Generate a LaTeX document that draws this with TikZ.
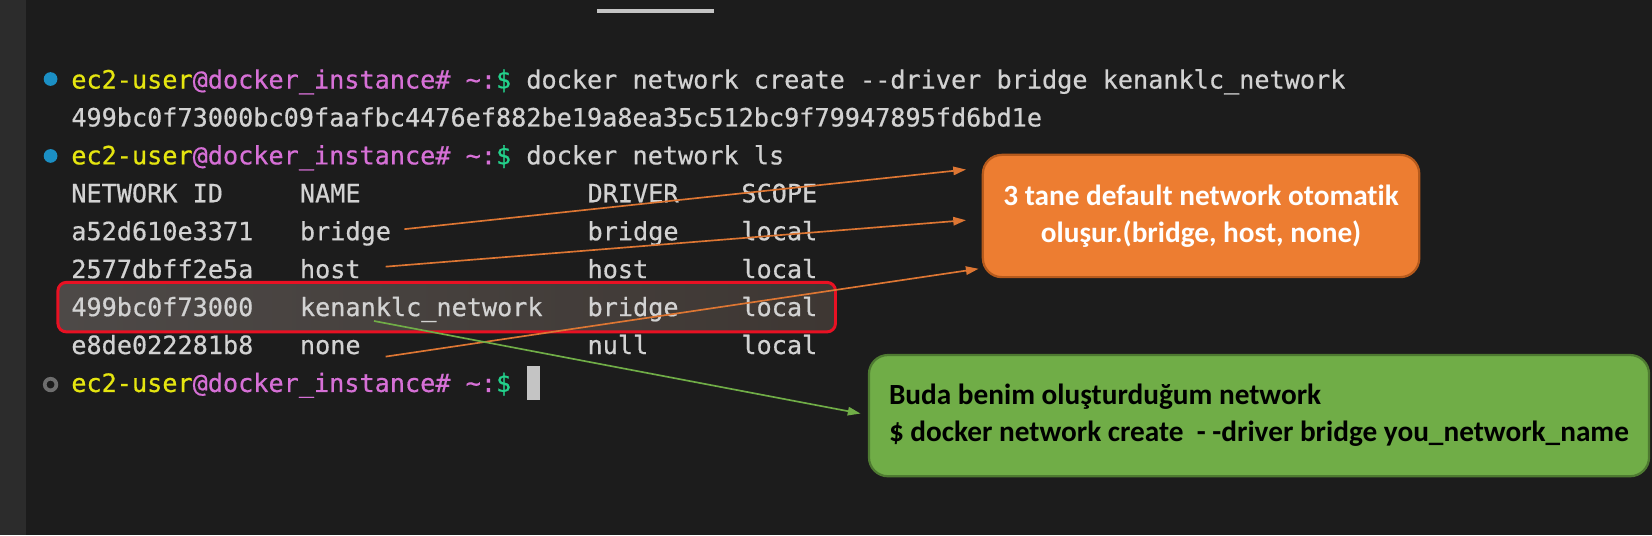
\documentclass[tikz,border=0pt]{standalone}
\usepackage{fontspec}
\newfontfamily\termfont[FakeBold=0.6]{DejaVu Sans Mono}
\newfontfamily\calfont[Ligatures=NoCommon]{Carlito}
\usetikzlibrary{arrows.meta}
\definecolor{termbg}{HTML}{1C1C1C}
\definecolor{sidebar}{HTML}{2C2C2C}
\definecolor{tabline}{HTML}{C4C4C4}
\definecolor{termfg}{HTML}{D2D2D2}
\definecolor{psuser}{HTML}{E5E510}
\definecolor{pshost}{HTML}{D670D6}
\definecolor{psdollar}{HTML}{23D18B}
\definecolor{dotblue}{HTML}{1B8FC4}
\definecolor{dotgray}{HTML}{6E6E6E}
\definecolor{hlred}{HTML}{E81123}
\definecolor{hlL}{HTML}{4D4947}
\definecolor{hlR}{HTML}{3E3733}
\definecolor{orfill}{HTML}{ED7D31}
\definecolor{orline}{HTML}{B65A1C}
\definecolor{grfill}{HTML}{70AD47}
\definecolor{grline}{HTML}{4E7A31}
\definecolor{orarrow}{HTML}{DD7633}
\newcommand\termprompt{\textcolor{psuser}{ec2-user}\textcolor{pshost}{@docker\_instance\# \textasciitilde:}\textcolor{psdollar}{\$} }

\begin{document}
\begin{tikzpicture}[x=0.01cm, y=-0.01cm,
	term/.style={anchor=base west, inner sep=0pt, font=\termfont\fontsize{6.8}{8}\selectfont, text=termfg},
	callout/.style={rounded corners=0.18cm, line width=0.6pt, inner sep=0pt, font=\calfont\bfseries\fontsize{7.9}{10}\selectfont},
	pointer/.style={line width=0.45pt, -{Triangle[length=0.12cm, width=0.08cm]}}]
			%%%%% START %%%%%
			
			\useasboundingbox (0, 0) rectangle (1568, 508);
			\fill[termbg] (0, 0) rectangle (1568, 508);
			\fill[sidebar] (0, 0) rectangle (25, 508);
			\draw[line width=0.035cm, color=tabline] (567, 10.5) -- (678, 10.5);
			
			\fill[dotblue] (48, 75) circle (0.065cm);
			\node[term] (cmd1) at (67, 84) {\termprompt docker network create -{}-driver bridge kenanklc\_network};
			\node[term] (netid) at (67, 120) {499bc0f73000bc09faafbc4476ef882be19a8ea35c512bc9f79947895fd6bd1e};
			
			\fill[dotblue] (48, 148) circle (0.065cm);
			\node[term] (cmd2) at (67, 156) {\termprompt docker network ls};
			
			\node[term] (hid) at (67, 192) {NETWORK ID};
			\node[term] (hnm) at (284, 192) {NAME};
			\node[term] (hdrv) at (557, 192) {DRIVER};
			\node[term] (hscp) at (703, 192) {SCOPE};
			
			\node[term] (id1) at (67, 228) {a52d610e3371};
			\node[term] (nm1) at (284, 228) {bridge};
			\node[term] (drv1) at (557, 228) {bridge};
			\node[term] (scp1) at (703, 228) {local};
			
			\node[term] (id2) at (67, 264) {2577dbff2e5a};
			\node[term] (nm2) at (284, 264) {host};
			\node[term] (drv2) at (557, 264) {host};
			\node[term] (scp2) at (703, 264) {local};
			
			\draw[hlred, line width=0.8pt, rounded corners=0.08cm, left color=hlL, right color=hlR] (55, 268) rectangle (793, 315);
			\node[term] (id3) at (67, 300) {499bc0f73000};
			\node[term] (nm3) at (284, 300) {kenanklc\_network};
			\node[term] (drv3) at (557, 300) {bridge};
			\node[term] (scp3) at (703, 300) {local};
			
			\node[term] (id4) at (67, 336) {e8de022281b8};
			\node[term] (nm4) at (284, 336) {none};
			\node[term] (drv4) at (557, 336) {null};
			\node[term] (scp4) at (703, 336) {local};
			
			\draw[dotgray, line width=0.035cm] (48, 365) circle (0.055cm);
			\node[term] (cmd3) at (67, 372) {\termprompt};
			\fill[tabline] (500, 347) rectangle (513, 380);
			
			\node[callout, fill=orfill, draw=orline, minimum width=4.14cm, minimum height=1.16cm, text=white, align=center] (defnote) at (1140, 205) {3 tane default network otomatik\\oluşur.(bridge, host, none)};
			\node[callout, fill=grfill, draw=grline, minimum width=7.4cm, minimum height=1.15cm, text=black, align=left] (mynote) at (1195, 394.5) {Buda benim oluşturduğum network\\\$ docker network create\ \ - -driver bridge you\_network\_name};
			
			\coordinate (tip1) at ([shift={(-15, 15)}]defnote.north west);
			\coordinate (tip2) at ([shift={(-15, 4)}]defnote.west);
			\coordinate (tip3) at ([shift={(-3, -9)}]defnote.south west);
			\coordinate (tip4) at ([shift={(-7, -2)}]mynote.west);
			
			\draw[pointer, orarrow] ([shift={(12, -4)}]nm1.east) -- (tip1);
			\draw[pointer, orarrow] ([shift={(23, -2)}]nm2.east) -- (tip2);
			\draw[pointer, orarrow] ([shift={(23, 9)}]nm4.east) -- (tip3);
			\draw[pointer, grfill] ([shift={(71, 11)}]nm3.west) -- (tip4);
			
			%%%%% END %%%%%
\end{tikzpicture}
\end{document}
